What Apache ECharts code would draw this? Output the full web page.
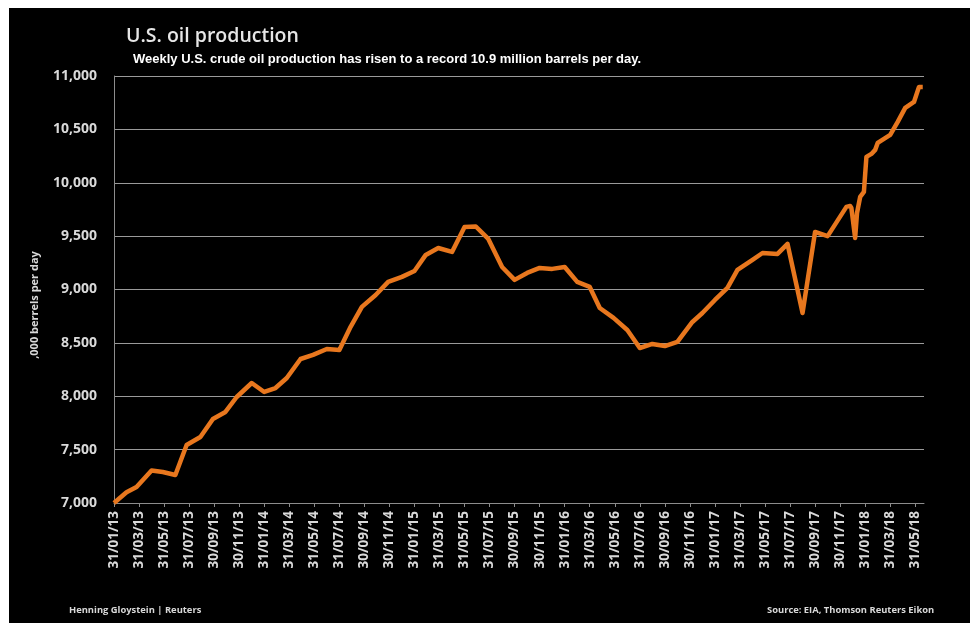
<!DOCTYPE html>
<html>
<head>
<meta charset="utf-8">
<script src="https://cdn.jsdelivr.net/npm/echarts@6/dist/echarts.min.js"></script>
<style>
  html, body { margin: 0; padding: 0; background: #fff; }
  #chart { width: 970px; height: 623px; }
</style>
</head>
<body>
<div id="chart"></div>
<script>
// x positions are months since 31/01/13, values are '000 barrels per day
const months = [0, 1, 1.8, 3, 3.9, 4.9, 5.8, 6.9, 7.9, 8.9, 9.8, 11, 12, 12.9, 13.8, 14.9, 15.9,
  17, 18, 18.9, 19.8, 20.9, 21.9, 23, 24, 24.9, 25.9, 27, 28, 28.9, 29.9, 31, 32, 33, 34, 35, 36,
  37, 38, 38.8, 39.9, 41, 42, 43, 44, 45, 46.2, 47, 48, 49, 49.8, 51, 51.8, 53, 53.8, 55, 56, 57,
  58.5, 58.8, 58.9, 59.2, 59.35, 59.6, 59.9, 60.1, 60.5, 60.8, 61, 62, 62.6, 63.2, 63.9, 64.3, 64.6]
const production = [7000, 7100, 7150, 7305, 7290, 7262, 7543, 7618, 7787, 7853, 7993, 8124, 8040, 8077, 8171, 8349, 8387,
  8443, 8434, 8650, 8837, 8949, 9071, 9118, 9174, 9324, 9389, 9352, 9586, 9590, 9474, 9211, 9090, 9155, 9202, 9193, 9211,
  9071, 9024, 8827, 8734, 8621, 8452, 8490, 8470, 8509, 8696, 8780, 8902, 9015, 9183, 9277, 9342, 9333, 9427, 8780, 9539, 9500,
  9774, 9783, 9764, 9483, 9717, 9867, 9914, 10242, 10270, 10308, 10373, 10448, 10570, 10701, 10757, 10898, 10898]
const xLabels = ['31/01/13', '31/03/13', '31/05/13', '31/07/13', '30/09/13', '30/11/13', '31/01/14', '31/03/14',
  '31/05/14', '31/07/14', '30/09/14', '30/11/14', '31/01/15', '31/03/15', '31/05/15', '31/07/15', '30/09/15',
  '30/11/15', '31/01/16', '31/03/16', '31/05/16', '31/07/16', '30/09/16', '30/11/16', '31/01/17', '31/03/17',
  '31/05/17', '31/07/17', '30/09/17', '30/11/17', '31/01/18', '31/03/18', '31/05/18']

const chart = echarts.init(document.getElementById('chart'), null, { renderer: 'canvas' })

const grey = '#d9d9d9'

const option = {
  backgroundColor: '#000',
  animation: false,
  title: [
    {
      text: 'U.S. oil production',
      left: 121,
      top: 21,
      textStyle: { color: '#e6e6e6', fontSize: 19.5, fontWeight: 600, fontFamily: 'Open Sans' }
    },
    {
      text: 'Weekly U.S. crude oil production has risen to a record 10.9 million barrels per day.',
      left: 128,
      top: 48,
      textStyle: { color: '#fff', fontSize: 13, fontWeight: 'bold', fontFamily: 'Liberation Sans' }
    }
  ],
  graphic: [
    { type: 'rect', left: 0, top: 0, shape: { width: 970, height: 8 }, style: { fill: '#fff' } },
    { type: 'rect', left: 0, top: 0, shape: { width: 9, height: 623 }, style: { fill: '#fff' } },
    {
      type: 'text', x: 35, y: 305, rotation: Math.PI / 2,
      style: { text: ',000 berrels per day', fill: grey, font: 'bold 11px "Open Sans"', align: 'center', verticalAlign: 'middle' }
    },
    {
      type: 'text', left: 69, top: 606,
      style: { text: 'Henning Gloystein | Reuters', fill: grey, font: 'bold 9.4px "Open Sans"' }
    },
    {
      type: 'text', left: 767, top: 606,
      style: { text: 'Source: EIA, Thomson Reuters Eikon', fill: grey, font: 'bold 9.4px "Open Sans"' }
    }
  ],
  grid: {
    left: 114,
    right: 46,
    top: 76,
    bottom: 120
  },
  xAxis: {
    type: 'value',
    min: 0,
    max: 64.7,
    interval: 2,
    splitLine: { show: false },
    axisLine: { lineStyle: { color: '#8c8c8c', width: 1 } },
    axisTick: { show: true, length: 4, lineStyle: { color: '#8c8c8c' } },
    axisLabel: {
      rotate: 90,
      color: grey,
      fontSize: 13.5,
      fontWeight: 'bold',
      fontFamily: 'Open Sans',
      margin: 8,
      showMaxLabel: false,
      formatter: v => {
        const i = v / 2
        return Number.isInteger(i) && xLabels[i] ? xLabels[i] : ''
      }
    }
  },
  yAxis: {
    type: 'value',
    min: 7000,
    max: 11000,
    interval: 500,
    axisLine: { show: true, lineStyle: { color: '#8c8c8c', width: 1 } },
    axisTick: { show: false },
    splitLine: { lineStyle: { color: '#9a9a9a', width: 1 } },
    axisLabel: {
      color: grey,
      fontSize: 14,
      fontWeight: 'bold',
      fontFamily: 'Open Sans',
      margin: 17,
      formatter: v => v.toLocaleString('en-US')
    }
  },
  series: [
    {
      type: 'line',
      data: months.map((m, i) => [m, production[i]]),
      symbol: 'none',
      smooth: false,
      lineStyle: { color: '#e8771e', width: 4.5, join: 'round' },
      z: 3
    }
  ]
}

chart.setOption(option)
</script>
</body>
</html>
